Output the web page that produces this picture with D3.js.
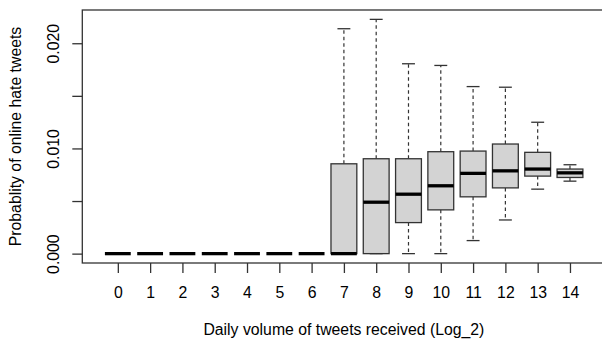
<!DOCTYPE html>
<html>
<head>
<meta charset="utf-8">
<script src="https://cdn.jsdelivr.net/npm/d3@7"></script>
<style>
  html, body { margin: 0; padding: 0; background: #fff; }
  svg { display: block; }
  text { font-family: "Liberation Sans", Arial, sans-serif; fill: #000; }
</style>
</head>
<body>
<svg id="chart" width="602" height="341"></svg>
<script>
// Daily volume of tweets received (log2 bins) vs probability of online hate tweets
const categories = ["0","1","2","3","4","5","6","7","8","9","10","11","12","13","14"];
const whiskerLow = [0,0,0,0,0,0,0, 0,      0,      0,      0,      0.00124, 0.00320, 0.00613, 0.00689];
const q1         = [0,0,0,0,0,0,0, 0,      0,      0.00295,0.00416,0.00540, 0.00625, 0.00737, 0.00724];
const median     = [0,0,0,0,0,0,0, 0,      0.00489,0.00565,0.00645,0.00763, 0.00787, 0.00804, 0.00768];
const q3         = [0,0,0,0,0,0,0, 0.00854,0.00902,0.00902,0.00969,0.00975, 0.01042, 0.00963, 0.00804];
const whiskerHigh= [0,0,0,0,0,0,0, 0.02138,0.02227,0.01805,0.01789,0.01588, 0.01582, 0.01249, 0.00845];
const yTicks = [0, 0.005, 0.010, 0.015, 0.020];
const yTickLabels = ["0.000", "", "0.010", "", "0.020"];

const FONT = 15.8;
const svg = d3.select("#chart");
const plot = { left: 82.3, right: 605.5, top: 10, bottom: 263 };

// x: boxes sit at 1..n, limits padded by 4% like a base-graphics boxplot
const n = categories.length;
const xPad = 0.04 * n;
const x = d3.scaleLinear().domain([0.5 - xPad, n + 0.5 + xPad]).range([plot.left, plot.right]);

const yLo = d3.min(whiskerLow), yHi = d3.max(whiskerHigh);
const yPad = 0.04 * (yHi - yLo);
const y = d3.scaleLinear().domain([yLo - yPad, yHi + yPad]).range([plot.bottom, plot.top]);

const boxHalf = 0.4, capHalf = 0.2;
const stroke = "#333";

const data = categories.map((c, i) => ({
  c, pos: i + 1,
  lo: whiskerLow[i], q1: q1[i], med: median[i], q3: q3[i], hi: whiskerHigh[i]
}));

const g = svg.append("g");
const box = g.selectAll("g.box").data(data).join("g").attr("class", "box");

// whiskers (dashed) and caps
box.append("line")
  .attr("x1", d => x(d.pos)).attr("x2", d => x(d.pos))
  .attr("y1", d => y(d.q3)).attr("y2", d => y(d.hi))
  .attr("stroke", stroke).attr("stroke-width", 1.2).attr("stroke-dasharray", "3.5,3");
box.append("line")
  .attr("x1", d => x(d.pos)).attr("x2", d => x(d.pos))
  .attr("y1", d => y(d.q1)).attr("y2", d => y(d.lo))
  .attr("stroke", stroke).attr("stroke-width", 1.2).attr("stroke-dasharray", "3.5,3");
box.append("line")
  .attr("x1", d => x(d.pos - capHalf)).attr("x2", d => x(d.pos + capHalf))
  .attr("y1", d => y(d.hi)).attr("y2", d => y(d.hi))
  .attr("stroke", stroke).attr("stroke-width", 1.3);
box.append("line")
  .attr("x1", d => x(d.pos - capHalf)).attr("x2", d => x(d.pos + capHalf))
  .attr("y1", d => y(d.lo)).attr("y2", d => y(d.lo))
  .attr("stroke", stroke).attr("stroke-width", 1.3);

// boxes
box.append("rect")
  .attr("x", d => x(d.pos - boxHalf))
  .attr("width", d => x(d.pos + boxHalf) - x(d.pos - boxHalf))
  .attr("y", d => y(d.q3))
  .attr("height", d => y(d.q1) - y(d.q3))
  .attr("fill", "#D3D3D3").attr("stroke", stroke).attr("stroke-width", 1.3);

// medians
box.append("line")
  .attr("x1", d => x(d.pos - boxHalf)).attr("x2", d => x(d.pos + boxHalf))
  .attr("y1", d => y(d.med)).attr("y2", d => y(d.med))
  .attr("stroke", "#000").attr("stroke-width", 3.3);

// plot frame
svg.append("rect")
  .attr("x", plot.left).attr("y", plot.top)
  .attr("width", plot.right - plot.left).attr("height", plot.bottom - plot.top)
  .attr("fill", "none").attr("stroke", stroke).attr("stroke-width", 1.3);

// x axis
const xAxis = d3.axisBottom(x)
  .tickValues(d3.range(1, n + 1))
  .tickFormat(d => categories[d - 1])
  .tickSize(10).tickPadding(13.5);
const gx = svg.append("g").attr("transform", `translate(0,${plot.bottom})`).call(xAxis);
gx.select(".domain").remove();
gx.selectAll(".tick line").attr("stroke", stroke).attr("stroke-width", 1.3);
gx.selectAll(".tick text").attr("font-size", FONT).attr("fill", "#000")
  .attr("font-family", "Liberation Sans, Arial, sans-serif");

// y axis with rotated labels
const yAxis = d3.axisLeft(y)
  .tickValues(yTicks)
  .tickFormat((d, i) => yTickLabels[i])
  .tickSize(10);
const gy = svg.append("g").attr("transform", `translate(${plot.left},0)`).call(yAxis);
gy.select(".domain").remove();
gy.selectAll(".tick line").attr("stroke", stroke).attr("stroke-width", 1.3);
gy.selectAll(".tick text")
  .attr("font-size", FONT).attr("fill", "#000")
  .attr("font-family", "Liberation Sans, Arial, sans-serif")
  .attr("x", null).attr("dy", null)
  .attr("text-anchor", "middle")
  .attr("transform", `translate(${58.5 - plot.left},0) rotate(-90)`);

// axis titles
svg.append("text")
  .attr("x", (plot.left + plot.right) / 2).attr("y", 335)
  .attr("text-anchor", "middle").attr("font-size", FONT)
  .text("Daily volume of tweets received (Log_2)");
svg.append("text")
  .attr("transform", `translate(20.8,${(plot.top + plot.bottom) / 2}) rotate(-90)`)
  .attr("text-anchor", "middle").attr("font-size", FONT)
  .text("Probablity of online hate tweets");
</script>
</body>
</html>
